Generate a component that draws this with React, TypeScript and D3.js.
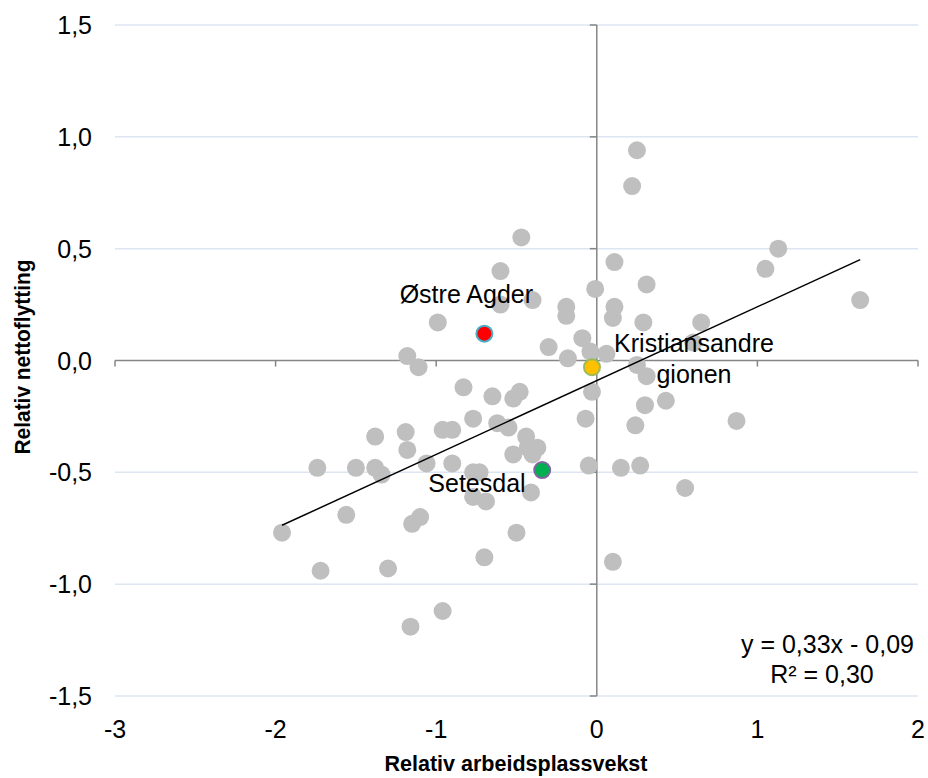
import React from "react";
import * as d3 from "d3";

const xTicks = [-3, -2, -1, 0, 1, 2];
const yTicks = [-1.5, -1.0, -0.5, 0.0, 0.5, 1.0, 1.5];

const greyX = [0.25, 0.22, -0.47, 1.13, 1.05, -0.6, 0.11, 0.31, -0.01, 1.64, -0.4, -0.6, -0.19, -0.19, 0.11, 0.1, 0.29, 0.65, -0.99, -0.09, -0.3, -0.18, -0.04, 0.06, 0.6, 0.25, 0.31, -1.18, -1.11, -0.83, -0.65, -0.52, -0.48, -0.03, 0.43, 0.3, -0.07, 0.87, 0.24, -0.77, -0.62, -0.55, -0.44, -0.37, -0.43, -0.52, -0.4, -1.19, -0.96, -0.9, -1.38, -1.18, -1.06, -0.9, -0.77, -0.73, -1.74, -1.5, -1.38, -1.34, -0.05, 0.15, 0.27, 0.55, -0.41, -0.5, 0.1, -1.96, -1.56, -1.15, -1.1, -0.77, -0.69, -1.72, -1.3, -0.7, -0.96, -1.16];
const greyY = [0.94, 0.78, 0.55, 0.5, 0.41, 0.4, 0.44, 0.34, 0.32, 0.27, 0.27, 0.25, 0.24, 0.2, 0.24, 0.19, 0.17, 0.17, 0.17, 0.1, 0.06, 0.01, 0.04, 0.03, 0.08, -0.02, -0.07, 0.02, -0.03, -0.12, -0.16, -0.17, -0.14, -0.14, -0.18, -0.2, -0.26, -0.27, -0.29, -0.26, -0.28, -0.3, -0.34, -0.39, -0.39, -0.42, -0.42, -0.32, -0.31, -0.31, -0.34, -0.4, -0.46, -0.46, -0.5, -0.5, -0.48, -0.48, -0.48, -0.51, -0.47, -0.48, -0.47, -0.57, -0.59, -0.77, -0.9, -0.77, -0.69, -0.73, -0.7, -0.61, -0.63, -0.94, -0.93, -0.88, -1.12, -1.19];

const highlightNames = ["Østre Agder", "Kristiansandregionen", "Setesdal"];
const highlightX = [-0.7, -0.03, -0.34];
const highlightY = [0.12, -0.03, -0.49];
const highlightFill = ["#FF0000", "#FFC000", "#00B050"];
const highlightStroke = ["#4BACC6", "#9BBB59", "#8064A2"];

const slope = 0.33;
const intercept = -0.09;
const r2 = 0.3;

const W = 928;
const H = 778;

export default function App() {
  const x = d3.scaleLinear().domain([-3, 2]).range([115, 918]);
  const y = d3.scaleLinear().domain([-1.5, 1.5]).range([696, 25]);
  const fmtY = (v: number) => d3.format(".1f")(v).replace(".", ",").replace("−", "-");
  const font = "'Liberation Sans', Arial, sans-serif";
  const xmin = d3.min(greyX)!;
  const xmax = d3.max(greyX)!;
  const line = d3.line<number>().x((d) => x(d)).y((d) => y(slope * d + intercept));
  const r = 9;
  const nf = (v: number) => v.toFixed(2).replace(".", ",");
  const fs = 25;

  return (
    <svg width={W} height={H} style={{ position: "absolute", left: 0, top: 0, background: "#fff" }} fontFamily={font}>
      {yTicks.filter((t) => t !== 0).map((t) => (
        <line key={"g" + t} x1={x(-3)} x2={x(2)} y1={y(t)} y2={y(t)} stroke="#DCE6F2" strokeWidth={1.5} />
      ))}
      {/* axes */}
      <line x1={x(-3)} x2={x(2)} y1={y(0)} y2={y(0)} stroke="#868686" strokeWidth={1.5} />
      <line x1={x(0)} x2={x(0)} y1={y(1.5)} y2={y(-1.5)} stroke="#868686" strokeWidth={1.5} />
      {xTicks.map((t) => (
        <line key={"xt" + t} x1={x(t)} x2={x(t)} y1={y(0)} y2={y(0) + 6} stroke="#868686" strokeWidth={1.5} />
      ))}
      {yTicks.map((t) => (
        <line key={"yt" + t} x1={x(0) - 7} x2={x(0)} y1={y(t)} y2={y(t)} stroke="#868686" strokeWidth={1.5} />
      ))}
      {/* tick labels */}
      {yTicks.map((t) => (
        <text key={"yl" + t} x={92} y={y(t)} dy="0.36em" textAnchor="end" fontSize={fs} fill="#000">
          {fmtY(t)}
        </text>
      ))}
      {xTicks.map((t) => (
        <text key={"xl" + t} x={x(t)} y={738} textAnchor="middle" fontSize={fs} fill="#000">
          {t}
        </text>
      ))}
      {/* axis titles */}
      <text x={516} y={771} textAnchor="middle" fontSize={22.5} fontWeight="bold" textLength={263} lengthAdjust="spacingAndGlyphs">
        Relativ arbeidsplassvekst
      </text>
      <text transform={`translate(30,${357}) rotate(-90)`} textAnchor="middle" fontSize={22.5} fontWeight="bold" textLength={195} lengthAdjust="spacingAndGlyphs">
        Relativ nettoflytting
      </text>
      {/* points */}
      {greyX.map((v, i) => (
        <circle key={"p" + i} cx={x(v)} cy={y(greyY[i])} r={r} fill="#BFBFBF" />
      ))}
      {/* trend line */}
      <path d={line([xmin, xmax]) || ""} fill="none" stroke="#000" strokeWidth={1.5} />
      {highlightX.map((v, i) => (
        <circle key={"h" + i} cx={x(v)} cy={y(highlightY[i])} r={r - 1} fill={highlightFill[i]} stroke={highlightStroke[i]} strokeWidth={2} />
      ))}
      {/* labels */}
      <text x={x(highlightX[0]) - 18} y={303} textAnchor="middle" fontSize={fs}>
        {highlightNames[0]}
      </text>
      <text x={694} y={352} textAnchor="middle" fontSize={fs}>
        Kristiansandre
      </text>
      <text x={694} y={383} textAnchor="middle" fontSize={fs}>
        gionen
      </text>
      <text x={477} y={492} textAnchor="middle" fontSize={fs}>
        {highlightNames[2]}
      </text>
      <text x={914} y={653} textAnchor="end" fontSize={fs}>
        {`y = ${nf(slope)}x - ${nf(-intercept)}`}
      </text>
      <text x={822} y={683} textAnchor="middle" fontSize={fs}>
        {`R² = ${nf(r2)}`}
      </text>
    </svg>
  );
}
